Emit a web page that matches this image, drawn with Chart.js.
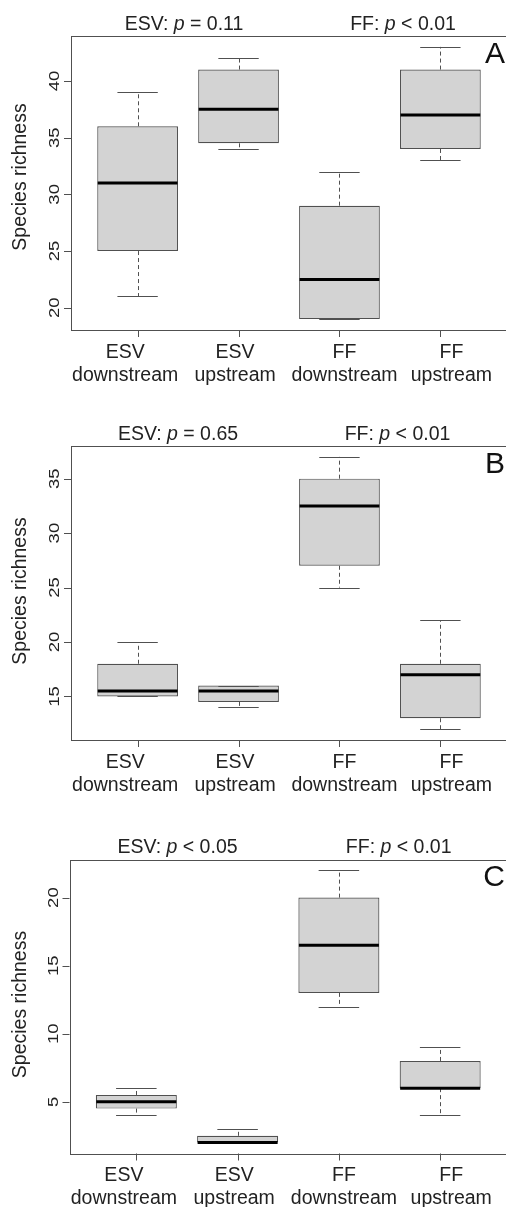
<!DOCTYPE html>
<html><head><meta charset="utf-8">
<script src="https://cdn.jsdelivr.net/npm/chart.js@4/dist/chart.umd.min.js"></script>
<style>
html,body{margin:0;padding:0;background:#fff;overflow:hidden;}
#wrap{width:506px;height:1207px;overflow:hidden;position:relative;background:#fff;}
canvas{display:block;}
</style></head><body><div id="wrap">
<canvas id="cA" width="508" height="400"></canvas>
<canvas id="cB" width="508" height="400"></canvas>
<canvas id="cC" width="508" height="407"></canvas>
</div>
<script>
// ---- data ----
const categories = [["ESV","downstream"],["ESV","upstream"],["FF","downstream"],["FF","upstream"]];

// Panel A
const aLow  = [21, 34,   19,   33];
const aQ1   = [25, 34.5, 19,   34];
const aMed  = [31, 37.5, 22.5, 37];
const aQ3   = [36, 41,   29,   41];
const aHigh = [39, 42,   32,   43];
const aTicks = [20, 25, 30, 35, 40];
const aTitles = [["ESV: ", "p", " = 0.11"], ["FF: ", "p", " < 0.01"]];

// Panel B
const bLow  = [15, 14,   25,   12];
const bQ1   = [15, 14.5, 27,   13];
const bMed  = [15.5, 15.5, 32.5, 17];
const bQ3   = [18, 16,   35,   18];
const bHigh = [20, 16,   37,   22];
const bTicks = [15, 20, 25, 30, 35];
const bTitles = [["ESV: ", "p", " = 0.65"], ["FF: ", "p", " < 0.01"]];

// Panel C
const cLow  = [4,   2,   12,   4];
const cQ1   = [4.5, 2,   13,   6];
const cMed  = [5,   2,   16.5, 6];
const cQ3   = [5.5, 2.5, 20,   8];
const cHigh = [6,   3,   22,   9];
const cTicks = [5, 10, 15, 20];
const cTitles = [["ESV: ", "p", " < 0.05"], ["FF: ", "p", " < 0.01"]];

const yTitle = "Species richness";

// ---- styling / layout ----
const FONT = '"Liberation Sans", Arial, Helvetica, sans-serif';
const TXT = '#222';
const LINE = '#505050';
const labelPos = [0.877, 1.966, 3.05, 4.109];

function titleDraw(ctx, parts, cx, baseY) {
  const fN = '19.5px ' + FONT, fI = 'italic 19.5px ' + FONT;
  const fonts = [fN, fI, fN];
  let w = 0; const ws = [];
  parts.forEach((t, k) => { ctx.font = fonts[k]; const m = ctx.measureText(t).width; ws.push(m); w += m; });
  let x = cx - w / 2;
  ctx.textAlign = 'left'; ctx.textBaseline = 'alphabetic'; ctx.fillStyle = TXT;
  parts.forEach((t, k) => { ctx.font = fonts[k]; ctx.fillText(t, x, baseY); x += ws[k]; });
}

const rPlugin = {
  id: 'rbox',
  afterDatasetsDraw(chart) {
    const o = chart.options.plugins.rbox;
    const { ctx } = chart; const x = chart.scales.x, y = chart.scales.y;
    ctx.save();
    for (let i = 0; i < o.med.length; i++) {
      const cx = x.getPixelForValue(i + 1);
      const half = x.getPixelForValue(i + 1.4) - cx;
      const capHalf = half / 2;
      const px = Math.round(cx) + 0.5;
      ctx.strokeStyle = LINE; ctx.lineWidth = 1;
      ctx.setLineDash([4, 3]);
      ctx.beginPath();
      if (o.high[i] > o.q3[i]) { ctx.moveTo(px, y.getPixelForValue(o.q3[i])); ctx.lineTo(px, y.getPixelForValue(o.high[i])); }
      if (o.low[i] < o.q1[i]) { ctx.moveTo(px, y.getPixelForValue(o.q1[i])); ctx.lineTo(px, y.getPixelForValue(o.low[i])); }
      ctx.stroke();
      ctx.setLineDash([]);
      ctx.beginPath();
      [o.low[i], o.high[i]].forEach(v => {
        const py = Math.round(y.getPixelForValue(v)) + 0.5;
        ctx.moveTo(cx - capHalf, py); ctx.lineTo(cx + capHalf, py);
      });
      ctx.stroke();
      ctx.strokeStyle = '#000'; ctx.lineWidth = 3;
      ctx.beginPath();
      const my = y.getPixelForValue(o.med[i]);
      ctx.moveTo(cx - half + 0.5, my); ctx.lineTo(cx + half - 0.5, my);
      ctx.stroke();
    }
    ctx.restore();
  },
  afterDraw(chart) {
    const o = chart.options.plugins.rbox;
    const { ctx, chartArea: a } = chart; const x = chart.scales.x, y = chart.scales.y;
    ctx.save();
    ctx.strokeStyle = LINE; ctx.lineWidth = 1;
    ctx.strokeRect(Math.round(a.left) + 0.5, Math.round(a.top) + 0.5, Math.round(a.right - a.left), Math.round(a.bottom - a.top));
    ctx.beginPath();
    o.ticks.forEach(v => {
      const py = Math.round(y.getPixelForValue(v)) + 0.5;
      ctx.moveTo(a.left - 7, py); ctx.lineTo(a.left, py);
    });
    for (let i = 0; i < categories.length; i++) {
      const px = Math.round(x.getPixelForValue(i + 1)) + 0.5;
      ctx.moveTo(px, a.bottom); ctx.lineTo(px, a.bottom + 7);
    }
    ctx.stroke();
    ctx.fillStyle = TXT;
    ctx.font = '18.5px ' + FONT;
    ctx.textAlign = 'center'; ctx.textBaseline = 'alphabetic';
    o.ticks.forEach(v => {
      ctx.save();
      ctx.translate(a.left - 12, y.getPixelForValue(v));
      ctx.rotate(-Math.PI / 2);
      ctx.scale(1, 0.8);
      ctx.fillText(String(v), 0, 0);
      ctx.restore();
    });
    ctx.font = '19.5px ' + FONT;
    ctx.save();
    ctx.translate(25.5, (a.top + a.bottom) / 2 + o.yTitleShift);
    ctx.rotate(-Math.PI / 2);
    ctx.fillText(yTitle, 0, 0);
    ctx.restore();
    categories.forEach((c, i) => {
      const px = x.getPixelForValue(labelPos[i]);
      ctx.fillText(c[0], px, a.bottom + 27.5);
      ctx.fillText(c[1], px, a.bottom + 50.5);
    });
    titleDraw(ctx, o.titles[0], o.titleX[0], a.top - 6.5);
    titleDraw(ctx, o.titles[1], o.titleX[1], a.top - 6.5);
    ctx.font = '30px ' + FONT;
    ctx.textAlign = 'right';
    ctx.fillStyle = '#111';
    ctx.fillText(o.letter, 505, a.top + 26.5);
    ctx.restore();
  }
};

function makePanel(id, low, q1, med, q3, high, ticks, titles, yMin, yMax, pad, titleX, letter, yTitleShift) {
  new Chart(document.getElementById(id), {
    type: 'bar',
    data: {
      datasets: [{
        data: categories.map((c, i) => ({ x: i + 1, y: [q1[i], q3[i]] })),
        backgroundColor: '#d3d3d3',
        borderColor: LINE,
        borderWidth: 1.2,
        borderSkipped: false,
        barPercentage: 0.8,
        categoryPercentage: 1.0
      }]
    },
    options: {
      responsive: false,
      animation: false,
      devicePixelRatio: 1,
      layout: { padding: pad },
      scales: {
        x: {
          type: 'linear', min: 0.34, max: 4.66, display: false, offset: false,
          grid: { offset: false },
          afterBuildTicks: (s) => { s.ticks = categories.map((c, i) => ({ value: i + 1 })); }
        },
        y: { type: 'linear', min: yMin, max: yMax, display: false }
      },
      plugins: {
        legend: { display: false },
        tooltip: { enabled: false },
        rbox: { low, q1, med, q3, high, ticks, titles, titleX, letter, yTitleShift }
      }
    },
    plugins: [rPlugin]
  });
}

makePanel('cA', aLow, aQ1, aMed, aQ3, aHigh, aTicks, aTitles, 18.04, 43.96,
  { left: 71, top: 36, right: 1, bottom: 70 }, [184, 403], 'A', -6);
makePanel('cB', bLow, bQ1, bMed, bQ3, bHigh, bTicks, bTitles, 11, 38,
  { left: 71, top: 46, right: 1, bottom: 60 }, [178, 397.5], 'B', -2);
makePanel('cC', cLow, cQ1, cMed, cQ3, cHigh, cTicks, cTitles, 1.2, 22.8,
  { left: 69.5, top: 59.5, right: 1, bottom: 53.5 }, [177.5, 398.7], 'C', -2);
</script>
</body></html>
